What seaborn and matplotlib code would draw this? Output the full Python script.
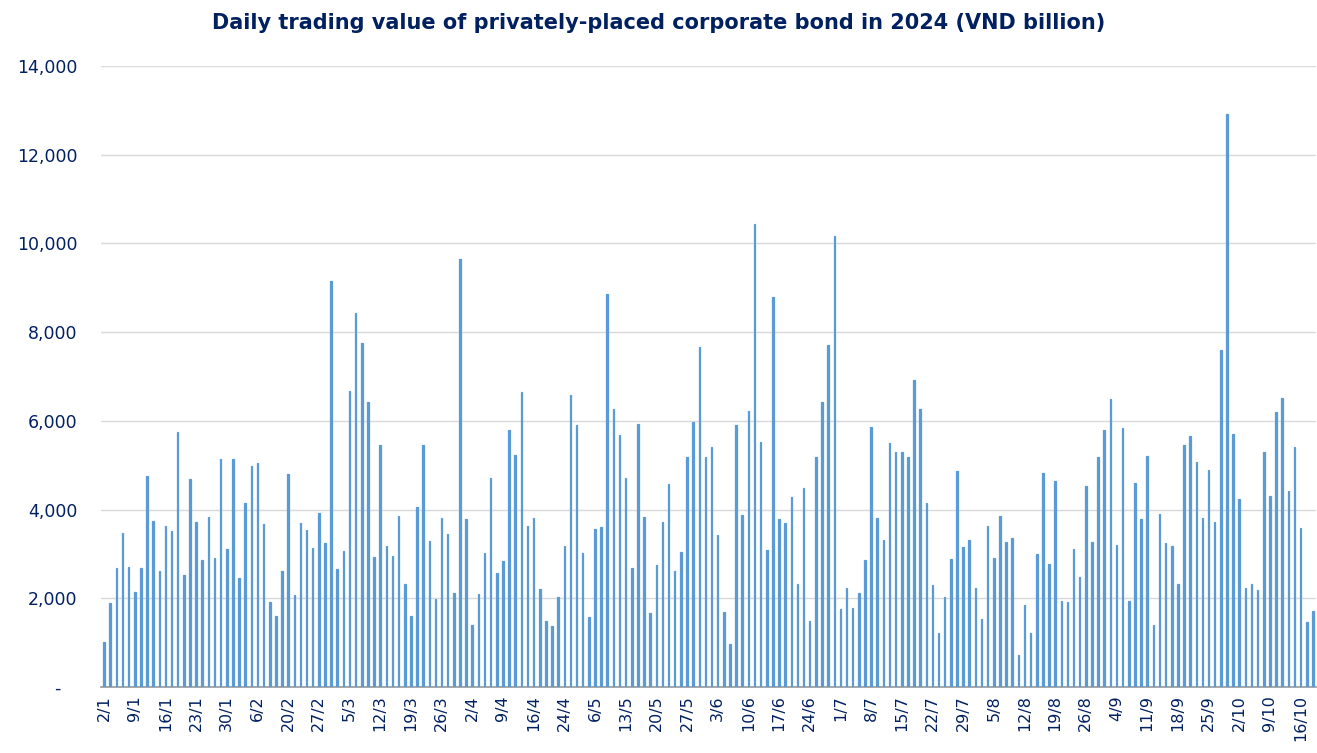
import pandas as pd
import numpy as np
import matplotlib
matplotlib.use("Agg")
import matplotlib.pyplot as plt
from matplotlib.ticker import FuncFormatter, FixedLocator
import seaborn as sns

# trading days (HOSE calendar 2024, up to 18/10)
holidays = ["2024-01-01", "2024-02-08", "2024-02-09", "2024-02-12", "2024-02-13",
            "2024-02-14", "2024-04-18", "2024-04-29", "2024-04-30", "2024-05-01",
            "2024-09-02", "2024-09-03"]
days = pd.bdate_range("2024-01-02", "2024-10-18")
days = days[~days.isin(pd.to_datetime(holidays))]
dates = [f"{d.day}/{d.month}" for d in days]

# daily trading value, VND billion
values = [
    1020, 1900, 2680, 3480, 2700, 2140, 2680, 4750, 3740, 2620, 3640, 3520, 5750, 2520, 4680, 3720,
    2860, 3830, 2910, 5130, 3110, 5130, 2450, 4150, 4990, 5050, 3680, 1910, 1610, 2610, 4810, 2070, 3700,
    3530, 3140, 3920, 3240, 9160, 2650, 3060, 6670, 8430, 7760, 6430, 2930, 5450, 3180, 2960, 3860,
    2320, 1610, 4070, 5450, 3300, 1980, 3820, 3460, 2130, 9660, 3780, 1390, 2100, 3020, 4720, 2570, 2840,
    5790, 5230, 6660, 3630, 3800, 2220, 1500, 1380, 2030, 3180, 6590, 5910, 3030, 1580, 3570, 3610, 8870,
    6260, 5680, 4720, 2690, 5940, 3830, 1670, 2740, 3710, 4570, 2610, 3050, 5190, 5970, 7660, 5180, 5420,
    3420, 1690, 960, 5900, 3870, 6220, 10430, 5530, 3090, 8800, 3790, 3700, 4290, 2320, 4480, 1500,
    5190, 6430, 7720, 10160, 1760, 2240, 1780, 2120, 2860, 5870, 3810, 3320, 5510, 5300, 5300, 5180, 6930,
    6270, 4150, 2300, 1210, 2020, 2880, 4870, 3150, 3310, 2230, 1540, 3640, 2910, 3860, 3280, 3370, 730,
    1860, 1210, 3000, 4820, 2770, 4640, 1950, 1920, 3120, 2490, 4530, 3260, 5180, 5800, 6500, 3210,
    5830, 1950, 4600, 3790, 5210, 1390, 3900, 3240, 3180, 2320, 5460, 5660, 5080, 3810, 4890, 3730, 7600,
    12910, 5700, 4240, 2240, 2330, 2190, 5310, 4300, 6190, 6510, 4430, 5420, 3580, 1470, 1710,
]

navy = "#002060"
bar_color = "#5B9BD5"

df = pd.DataFrame({"Date": dates, "Value": values})

sns.set_style("white")
plt.rcParams["font.family"] = ["DejaVu Sans"]

fig = plt.figure(figsize=(13.17, 7.53), dpi=100)
ax = fig.add_axes([0.0767, 0.0876, 0.9225, 0.8247])

sns.barplot(data=df, x="Date", y="Value", color=bar_color, width=0.25,
            saturation=1, edgecolor=bar_color, linewidth=0.9, ax=ax, zorder=3)

ax.set_xlim(-0.5, len(dates) - 0.5)
ax.set_ylim(0, 14000)
ax.set_yticks(np.arange(0, 14001, 2000))
ax.yaxis.set_major_formatter(FuncFormatter(lambda v, p: "-   " if v == 0 else f"{v:,.0f}"))
ax.grid(axis="y", color="#D9D9D9", linewidth=1, zorder=0)
ax.grid(axis="x", visible=False)

tick_pos = list(range(0, len(dates), 5))
ax.set_xticks(tick_pos)
ax.set_xticklabels([dates[i] for i in tick_pos], rotation=90)
ax.xaxis.set_minor_locator(FixedLocator(np.arange(-0.5, len(dates), 2)))
ax.tick_params(axis="x", which="major", length=0, pad=6, labelsize=11.5, labelcolor=navy)
ax.tick_params(axis="x", which="minor", length=5, color="#999999", width=0.8, direction="out")
ax.tick_params(axis="y", length=0, pad=17, labelsize=12.5, labelcolor=navy)

for s in ["left", "right", "top"]:
    ax.spines[s].set_visible(False)
ax.spines["bottom"].set_color("#999999")
ax.spines["bottom"].set_linewidth(1.2)

ax.set_xlabel("")
ax.set_ylabel("")
fig.text(0.5, 0.97, "Daily trading value of privately-placed corporate bond in 2024 (VND billion)",
         ha="center", va="center", fontsize=15, fontweight="bold", color=navy)

fig.savefig("out.png", dpi=100)
